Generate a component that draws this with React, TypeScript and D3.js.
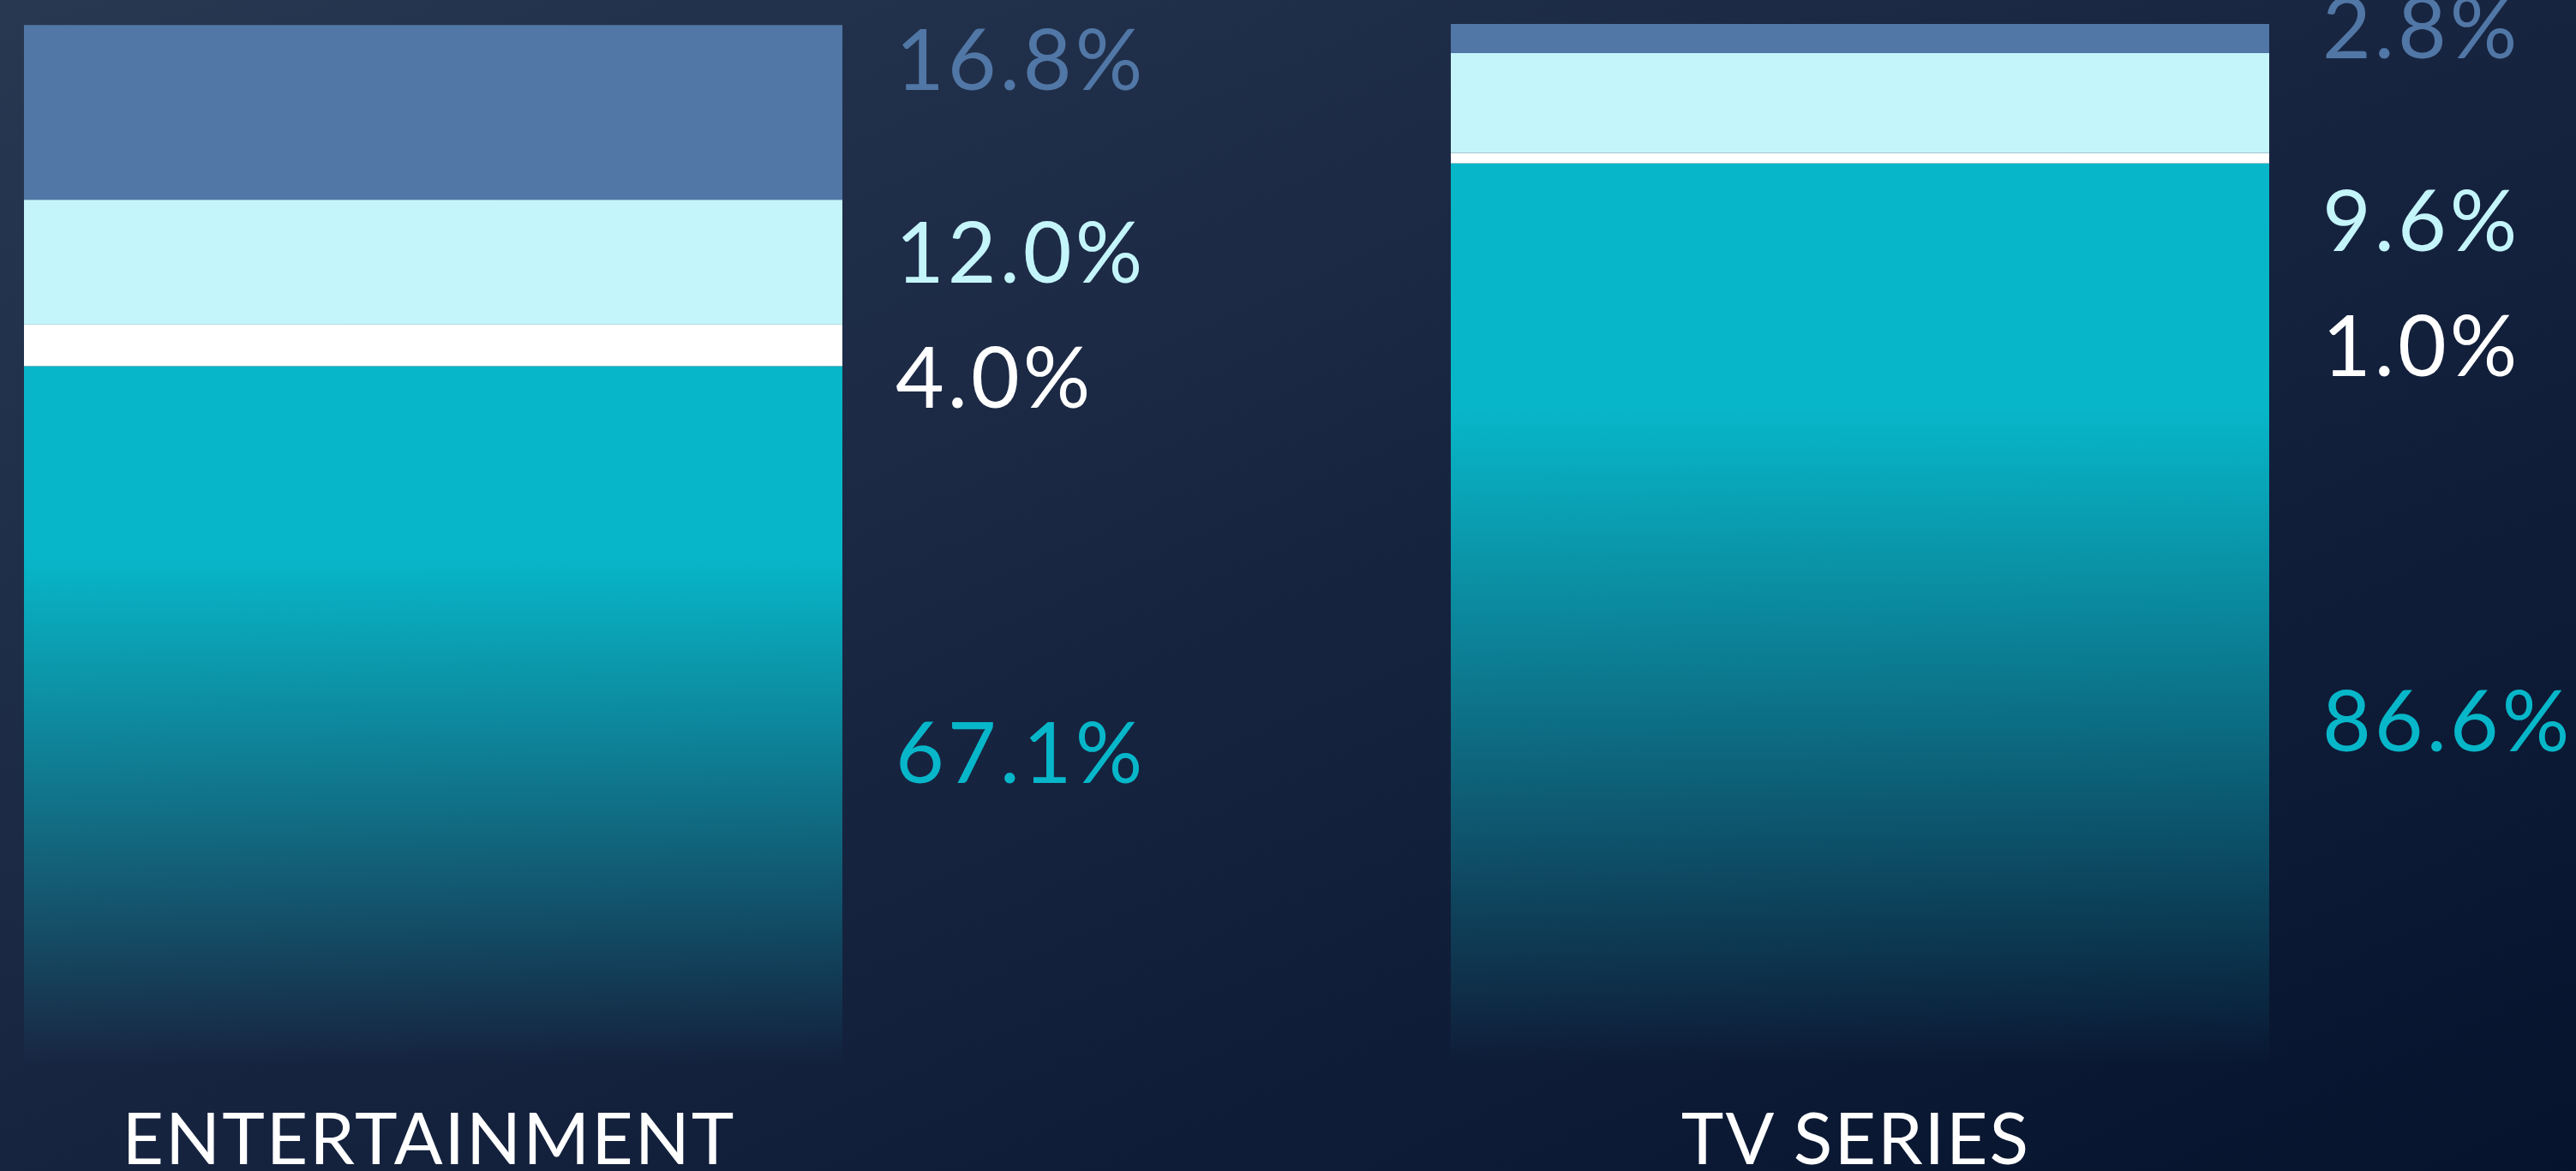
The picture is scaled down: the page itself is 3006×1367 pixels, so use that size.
import React from 'react';
import * as d3 from 'd3';

// categories and stacked shares (%), bottom segment first
const categories = ['ENTERTAINMENT', 'TV SERIES'];
const seriesKeys = ['teal', 'white', 'light', 'blue'];
const tealShare = [67.1, 86.6];
const whiteShare = [4.0, 1.0];
const lightShare = [12.0, 9.6];
const blueShare = [16.8, 2.8];

const colors: Record<string, string> = {
    teal: '#07b7c9',
    white: '#ffffff',
    light: '#c4f5fb',
    blue: '#5177a6',
};

const W = 3006;
const H = 1367;
const BOTTOM = 1242;
const BAR_SPAN = 1214; // px for 100%

// label slots: cap-centre offsets, top segment first (blue, light, white, teal)
const LABEL_BASE = [70, 33];
const LABEL_SLOTS = [0, 225, 371, 809];

const rows = categories.map((c, i) => ({
    cat: c,
    teal: tealShare[i],
    white: whiteShare[i],
    light: lightShare[i],
    blue: blueShare[i],
}));

export default function App() {
    const x = d3.scaleBand<string>()
        .domain(categories)
        .range([28, 28 + 1665 + 955])
        .paddingInner(1 - 955 / 1665)
        .paddingOuter(0);
    const y = d3.scaleLinear().domain([0, 100]).range([BOTTOM, BOTTOM - BAR_SPAN]);
    const stacked = d3.stack<any>().keys(seriesKeys)(rows);
    const bw = x.bandwidth();
    const fmt = d3.format('.1f');

    return (
        <div style={{ position: 'fixed', left: 0, top: 0, width: W, height: H }}>
            <svg width={W} height={H} style={{ display: 'block' }}>
                <defs>
                    <linearGradient id="bg" x1="0" y1="0" x2="1" y2="1">
                        <stop offset="0%" stopColor="#283851" />
                        <stop offset="50%" stopColor="#172440" />
                        <stop offset="100%" stopColor="#06132d" />
                    </linearGradient>
                    <linearGradient id="tealFade" x1="0" y1="0" x2="0" y2="1">
                        <stop offset="0%" stopColor={colors.teal} stopOpacity={1} />
                        <stop offset="27%" stopColor={colors.teal} stopOpacity={1} />
                        <stop offset="100%" stopColor={colors.teal} stopOpacity={0} />
                    </linearGradient>
                </defs>
                <rect width={W} height={H} fill="url(#bg)" />
                {stacked.map((s) => (
                    <g key={s.key}>
                        {s.map((d, i) => (
                            <rect
                                key={i}
                                x={x(categories[i])}
                                y={y(d[1])}
                                width={bw}
                                height={y(d[0]) - y(d[1])}
                                fill={s.key === 'teal' ? 'url(#tealFade)' : colors[s.key]}
                            />
                        ))}
                    </g>
                ))}
                {categories.map((c, i) => {
                    const lx = (x(c) as number) + bw + 62;
                    const order = ['blue', 'light', 'white', 'teal'];
                    return (
                        <g key={c} fontFamily="Lato, 'Open Sans', sans-serif">
                            {order.map((k, j) => (
                                <text
                                    key={k}
                                    x={lx}
                                    y={LABEL_BASE[i] + LABEL_SLOTS[j] + 35}
                                    fontSize={98}
                                    letterSpacing={4}
                                    fill={colors[k]}
                                >
                                    {fmt((rows[i] as any)[k])}%
                                </text>
                            ))}
                            <text
                                x={(x(c) as number) + bw / 2 - 5}
                                y={1359}
                                fontSize={84}
                                textAnchor="middle"
                                fill="#ffffff"
                                letterSpacing={2}
                            >
                                {c}
                            </text>
                        </g>
                    );
                })}
            </svg>
        </div>
    );
}
